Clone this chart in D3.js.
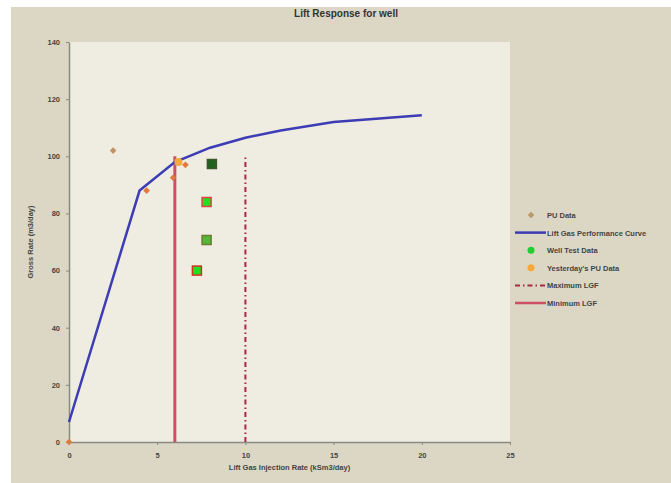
<!DOCTYPE html>
<html>
<head>
<meta charset="utf-8">
<script src="https://cdn.jsdelivr.net/npm/d3@7"></script>
<style>
  body { margin: 0; background: #fff; }
  text { font-family: "Liberation Sans", Arial, sans-serif; }
</style>
</head>
<body>
<svg id="chart" width="671" height="483"></svg>
<script>
// chart data
var title = "Lift Response for well";
var xLabel = "Lift Gas Injection Rate (kSm3/day)";
var yLabel = "Gross Rate (m3/day)";
var xTicks = [0, 5, 10, 15, 20, 25];
var yTicks = [0, 20, 40, 60, 80, 100, 120, 140];

var curveX = [0, 4, 6, 8, 10, 12, 15, 20];
var curveY = [7, 88, 98, 103, 106.5, 109, 112, 114.4];

var puX = [0, 2.5, 4.4, 5.9, 6.6];
var puY = [0, 102, 88, 92.5, 97];

var wellX = [8.1, 7.8, 7.8, 7.25];
var wellY = [97.3, 84, 70.7, 60];

var yestX = [6.2];
var yestY = [98];

var maxLGF = 10, minLGF = 6, lgfTop = 100;

var legendNames = ["PU Data", "Lift Gas Performance Curve", "Well Test Data",
    "Yesterday's PU Data", "Maximum LGF", "Minimum LGF"];

var svg = d3.select("#chart");

// chart frame
svg.append("rect").attr("x", 11).attr("y", 7).attr("width", 660).attr("height", 476)
    .attr("fill", "#dcd7c4");

var margin = { top: 42, left: 69 },
    width = 441,
    height = 400;

var x = d3.scaleLinear().domain([0, 25]).range([0, width]),
    y = d3.scaleLinear().domain([0, 140]).range([height, 0]);

var g = svg.append("g")
    .attr("transform", "translate(" + margin.left + "," + margin.top + ")");

g.append("rect").attr("width", width).attr("height", height).attr("fill", "#efece2");

svg.append("text")
    .attr("x", 346).attr("y", 17)
    .attr("text-anchor", "middle")
    .attr("font-size", 10).attr("font-weight", "bold")
    .attr("fill", "#333")
    .text(title);

// axes
var xAxis = g.append("g")
    .attr("transform", "translate(0," + height + ")")
    .call(d3.axisBottom(x).tickValues(xTicks).tickSize(3).tickSizeOuter(0));
var yAxis = g.append("g")
    .call(d3.axisLeft(y).tickValues(yTicks).tickSize(3).tickSizeOuter(0));
[xAxis, yAxis].forEach(function(a) {
    a.select(".domain").attr("stroke", "#8a8a80").attr("stroke-width", 1.5);
    a.selectAll(".tick line").attr("stroke", "#8a8a80");
    a.selectAll(".tick text").attr("fill", "#444").attr("font-size", 7.5)
        .attr("font-weight", "bold");
});
xAxis.selectAll(".tick text").attr("dy", "1.3em");
yAxis.selectAll(".tick text").attr("dx", "-0.4em");

g.append("text")
    .attr("x", x(12.5)).attr("y", height + 28)
    .attr("text-anchor", "middle").attr("font-size", 7.5).attr("font-weight", "bold")
    .attr("fill", "#444").text(xLabel);
g.append("text")
    .attr("transform", "translate(-36," + y(70) + ") rotate(-90)")
    .attr("text-anchor", "middle").attr("font-size", 7.5).attr("font-weight", "bold")
    .attr("fill", "#444").text(yLabel);

// LGF limits
g.append("line")
    .attr("x1", x(minLGF)).attr("x2", x(minLGF))
    .attr("y1", y(0)).attr("y2", y(lgfTop))
    .attr("stroke", "#cc4f66").attr("stroke-width", 3);
g.append("line")
    .attr("x1", x(maxLGF)).attr("x2", x(maxLGF))
    .attr("y1", y(0)).attr("y2", y(lgfTop))
    .attr("stroke", "#a52a45").attr("stroke-width", 2)
    .attr("stroke-dasharray", "5,3,1.5,3");

// performance curve
var curve = curveX.map(function(d, i) { return [d, curveY[i]]; });
g.append("path")
    .datum(curve)
    .attr("fill", "none")
    .attr("stroke", "#3c3cb4").attr("stroke-width", 2.5)
    .attr("d", d3.line()
        .x(function(d) { return x(d[0]); })
        .y(function(d) { return y(d[1]); }));

// PU data diamonds (rotated squares)
var diamond = d3.symbol().type(d3.symbolSquare).size(22);
g.selectAll(".pu")
    .data(puX.map(function(d, i) { return [d, puY[i]]; }))
    .enter().append("path")
    .attr("class", "pu")
    .attr("transform", function(d) {
        return "translate(" + x(d[0]) + "," + y(d[1]) + ") rotate(45)";
    })
    .attr("d", diamond)
    .attr("fill", function(d, i) { return i == 1 ? "#c0926a" : "#de7a3c"; });

// yesterday's PU data
g.selectAll(".yest")
    .data(yestX.map(function(d, i) { return [d, yestY[i]]; }))
    .enter().append("circle")
    .attr("class", "yest")
    .attr("cx", function(d) { return x(d[0]); })
    .attr("cy", function(d) { return y(d[1]); })
    .attr("r", 4)
    .attr("fill", "#f2a93a");

// well test squares
var wellFill = ["#21621f", "#22dd22", "#55b73a", "#22dd22"],
    wellStroke = ["#3a5a2a", "#e04040", "#6a7a30", "#d03020"];
g.selectAll(".well")
    .data(wellX.map(function(d, i) { return [d, wellY[i]]; }))
    .enter().append("rect")
    .attr("class", "well")
    .attr("x", function(d) { return x(d[0]) - 4.5; })
    .attr("y", function(d) { return y(d[1]) - 4.5; })
    .attr("width", 9).attr("height", 9)
    .attr("fill", function(d, i) { return wellFill[i]; })
    .attr("stroke", function(d, i) { return wellStroke[i]; })
    .attr("stroke-width", 1.5);

// legend
var lg = svg.append("g").attr("transform", "translate(515,215)");
var rowH = 17.6;
legendNames.forEach(function(name, i) {
    var row = lg.append("g").attr("transform", "translate(0," + (i * rowH) + ")");
    if (i == 0) {
        row.append("path").attr("transform", "translate(16,0) rotate(45)").attr("d", diamond)
            .attr("fill", "#b89a6e");
    } else if (i == 1) {
        row.append("line").attr("x1", 0).attr("x2", 31)
            .attr("stroke", "#3c3cb4").attr("stroke-width", 2.5);
    } else if (i == 2) {
        row.append("circle").attr("cx", 16).attr("r", 3.5).attr("fill", "#22cc33");
    } else if (i == 3) {
        row.append("circle").attr("cx", 16).attr("r", 3.5).attr("fill", "#f2a93a");
    } else if (i == 4) {
        row.append("line").attr("x1", 0).attr("x2", 31)
            .attr("stroke", "#a52a45").attr("stroke-width", 2)
            .attr("stroke-dasharray", "5,3,1.5,3");
    } else {
        row.append("line").attr("x1", 0).attr("x2", 31)
            .attr("stroke", "#cc4f66").attr("stroke-width", 2.5);
    }
    row.append("text").attr("x", 32).attr("y", 3)
        .attr("font-size", 7.5).attr("font-weight", "bold").attr("fill", "#444")
        .text(name);
});
</script>
</body>
</html>
